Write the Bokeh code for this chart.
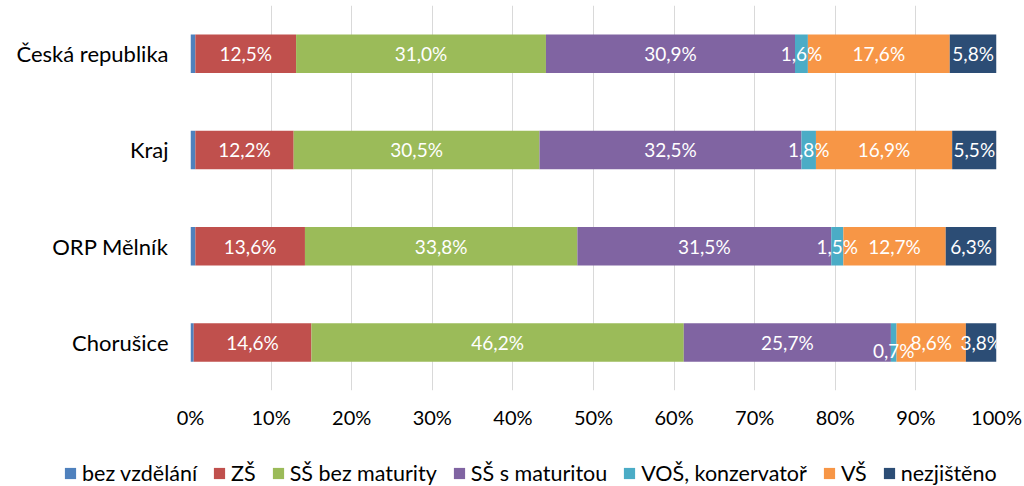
from bokeh.plotting import figure
from bokeh.layouts import column
from bokeh.models import (ColumnDataSource, FactorRange, FixedTicker, PrintfTickFormatter,
                          Legend, LegendItem, LabelSet)
from bokeh.core.properties import value
from bokeh.embed import file_html
from bokeh.resources import INLINE

categories = ["Česká republika", "Kraj", "ORP Mělník", "Chorušice"]
series = ["bez vzdělání", "ZŠ", "SŠ bez maturity", "SŠ s maturitou",
          "VOŠ, konzervatoř", "VŠ", "nezjištěno"]
colors = ["#4F81BD", "#C0504D", "#9BBB59", "#8064A2", "#4BACC6", "#F79646", "#2C4D75"]

bez_vzdelani = [0.6, 0.6, 0.6, 0.4]
zs = [12.5, 12.2, 13.6, 14.6]
ss_bez_maturity = [31.0, 30.5, 33.8, 46.2]
ss_s_maturitou = [30.9, 32.5, 31.5, 25.7]
vos = [1.6, 1.8, 1.5, 0.7]
vs = [17.6, 16.9, 12.7, 8.6]
nezjisteno = [5.8, 5.5, 6.3, 3.8]

values = [bez_vzdelani, zs, ss_bez_maturity, ss_s_maturitou, vos, vs, nezjisteno]
keys = ["s%d" % i for i in range(len(series))]

data = {"cat": categories}
for k, v in zip(keys, values):
    data[k] = v
source = ColumnDataSource(data)

FONT = "Lato"

p = figure(width=1024, height=448, output_backend="svg", toolbar_location=None,
           y_range=FactorRange(*reversed(categories), range_padding=0),
           x_range=(0, 100),
           min_border_left=190, min_border_right=28, min_border_top=5, min_border_bottom=58)
p.outline_line_color = None
p.background_fill_color = "white"
p.frame_align = False

renderers = p.hbar_stack(keys, y="cat", height=0.4, color=colors, line_color=None,
                         source=source)

# data labels (skip first series)
lx, ly, lt, lyo = [], [], [], []
for ci, cat in enumerate(categories):
    cum = 0.0
    for si, v in enumerate(values):
        val = v[ci]
        if si > 0:
            lx.append(cum + val / 2.0)
            ly.append(cat)
            lt.append(("%.1f" % val).replace(".", ",") + "%")
            lyo.append(-8 if val < 1.0 else 0)
        cum += val
lsrc = ColumnDataSource(dict(x=lx, y=ly, t=lt, yo=lyo))
labels = LabelSet(x="x", y="y", text="t", y_offset="yo", source=lsrc,
                  text_color="white", text_font=value(FONT), text_font_size="19px",
                  text_align="center", text_baseline="middle")
p.add_layout(labels)

p.xaxis.ticker = FixedTicker(ticks=list(range(0, 101, 10)))
p.xaxis.formatter = PrintfTickFormatter(format="%d%%")
p.xaxis.axis_line_color = None
p.xaxis.major_tick_line_color = None
p.xaxis.minor_tick_line_color = None
p.xaxis.major_tick_out = 0
p.xaxis.major_tick_in = 0
p.xaxis.major_label_standoff = 14
p.xaxis.major_label_text_font = FONT
p.xaxis.major_label_text_font_size = "20px"
p.xaxis.major_label_text_color = "#000000"

p.yaxis.axis_line_color = None
p.yaxis.major_tick_line_color = None
p.yaxis.minor_tick_line_color = None
p.yaxis.major_tick_out = 0
p.yaxis.major_tick_in = 0
p.yaxis.major_label_standoff = 22
p.yaxis.major_label_text_font = FONT
p.yaxis.major_label_text_font_size = "22px"
p.yaxis.major_label_text_color = "#000000"

p.xgrid.grid_line_color = "#D9D9D9"
p.xgrid.grid_line_width = 1
p.ygrid.grid_line_color = None

# legend strip below the chart (proxy swatches sit outside its visible range)
lp = figure(width=1024, height=38, output_backend="svg", toolbar_location=None,
            x_range=(0, 1), y_range=(0, 1),
            min_border_left=0, min_border_right=0, min_border_top=0, min_border_bottom=0)
lp.frame_align = False
lp.axis.visible = False
lp.grid.visible = False
lp.outline_line_color = None
dummies = [lp.quad(left=[-3], right=[-2], top=[-2], bottom=[-3], fill_color=c, line_color=None)
           for c in colors]
items = [LegendItem(label=s, renderers=[r]) for s, r in zip(series, dummies)]
legend = Legend(items=items, orientation="horizontal", location=(63, 0),
                label_text_font=FONT, label_text_font_size="21.5px", label_text_color="#000000",
                glyph_width=14, glyph_height=14, label_standoff=5, spacing=15,
                padding=0, margin=0, border_line_color=None, background_fill_alpha=0)
lp.add_layout(legend, "center")

layout = column(p, lp, spacing=0)
open("out.html", "w").write(file_html(layout, INLINE))
